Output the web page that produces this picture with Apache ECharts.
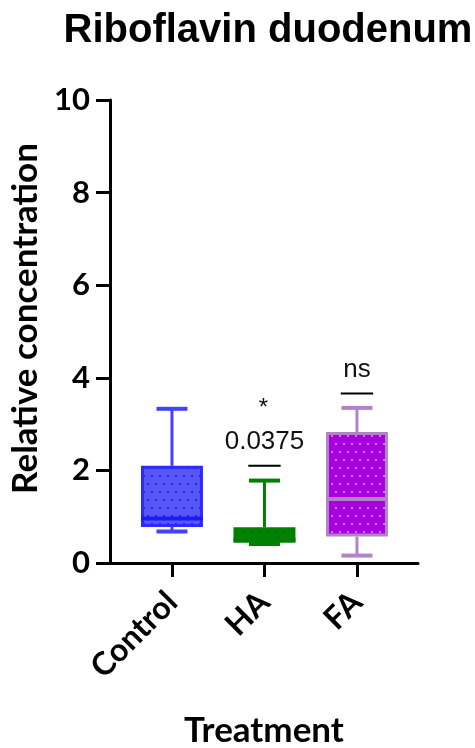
<!DOCTYPE html>
<html>
<head>
<meta charset="utf-8">
<script src="https://cdn.jsdelivr.net/npm/echarts@6/dist/echarts.min.js"></script>
<style>html,body{margin:0;padding:0;background:#fff}#c{width:475px;height:748px}</style>
</head>
<body>
<div id="c"></div>
<script>
// ---- data ----
var categories = ['Control', 'HA', 'FA'];
var whiskerLow  = [0.68, 0.41, 0.16];
var q1          = [0.78, 0.44, 0.57];
var median      = [0.96, 0.50, 1.38];
var q3          = [2.10, 0.77, 2.83];
var whiskerHigh = [3.33, 1.78, 3.35];
var yTicks = [0, 2, 4, 6, 8, 10];

// annotations
var annotCategory = ['HA', 'FA'];
var annotLineY = [2.10, 3.66];
var annotText = ['0.0375', 'ns'];
var annotStar = ['*', ''];

// ---- styles ----
var styles = [
  {fill: '#5757f7', dot: '#2323e6', border: '#2b2bff', whisker: '#4242ff', medianColor: '#1c1cf0'},
  {fill: '#008000', dot: '#006c00', border: '#008000', whisker: '#008000', medianColor: '#008000'},
  {fill: '#a900df', dot: '#c57ce6', border: '#b482c8', whisker: '#b482c8', medianColor: '#b482c8'}
];

function makePattern(bg, dot) {
  var c = document.createElement('canvas');
  c.width = 8; c.height = 16;
  var g = c.getContext('2d');
  g.fillStyle = bg; g.fillRect(0, 0, 8, 16);
  g.fillStyle = dot;
  g.fillRect(3, 3, 2, 2);
  g.fillRect(7, 11, 1, 2); g.fillRect(0, 11, 1, 2);
  return {image: c, repeat: 'repeat'};
}
var patterns = styles.map(function (s) { return makePattern(s.fill, s.dot); });

var boxData = categories.map(function (c, i) {
  return [i + 1, whiskerLow[i], q1[i], median[i], q3[i], whiskerHigh[i]];
});
var annotData = annotCategory.map(function (c, i) {
  return [categories.indexOf(c) + 1, annotLineY[i], i];
});

var chart = echarts.init(document.getElementById('c'), null, {renderer: 'canvas'});
var labelFont = 'Lato';

chart.setOption({
  animation: false,
  title: {
    text: 'Riboflavin duodenum',
    left: 263, top: 6, textAlign: 'center',
    textStyle: {fontFamily: 'Liberation Sans', fontWeight: 'bold', fontSize: 40, color: '#000'}
  },
  grid: {left: 110, top: 100, right: 57, bottom: 185, containLabel: false, outerBoundsMode: 'none'},
  xAxis: {
    type: 'value', min: 0.33, max: 3.66,
    name: 'Treatment', nameLocation: 'middle', nameGap: 150,
    nameTextStyle: {fontFamily: labelFont, fontWeight: 'bold', fontSize: 35, color: '#000'},
    axisLine: {show: true, lineStyle: {color: '#000', width: 3}},
    axisTick: {show: true, length: 14, lineStyle: {color: '#000', width: 3}, customValues: [1, 2, 3]},
    axisLabel: {
      customValues: [1, 2, 3], rotate: 45, margin: 34,
      fontFamily: labelFont, fontWeight: 'bold', fontSize: 32, color: '#000',
      formatter: function (v) { return categories[Math.round(v) - 1] || ''; }
    },
    splitLine: {show: false}
  },
  yAxis: {
    type: 'value', min: 0, max: 10, interval: 2,
    name: 'Relative concentration', nameLocation: 'middle', nameGap: 60,
    nameTextStyle: {fontFamily: labelFont, fontWeight: 'bold', fontSize: 35, color: '#000', padding: [0, 0, 0, 26]},
    axisLine: {show: true, lineStyle: {color: '#000', width: 3}},
    axisTick: {show: true, length: 14, lineStyle: {color: '#000', width: 3}},
    axisLabel: {margin: 20, fontFamily: labelFont, fontWeight: 'bold', fontSize: 31, color: '#000',
      formatter: function (v) { return yTicks.indexOf(v) >= 0 ? String(v) : ''; }},
    splitLine: {show: false}
  },
  series: [
    {
      type: 'custom',
      data: boxData,
      clip: false,
      renderItem: function (params, api) {
        var i = params.dataIndex;
        var s = styles[i];
        var x = api.value(0);
        var unit = api.size([1, 0])[0];
        var bw = unit * 0.67, cw = unit * 0.335;
        var pLow = api.coord([x, api.value(1)]);
        var pQ1 = api.coord([x, api.value(2)]);
        var pMed = api.coord([x, api.value(3)]);
        var pQ3 = api.coord([x, api.value(4)]);
        var pHigh = api.coord([x, api.value(5)]);
        var cx = pLow[0];
        var lw = {stroke: s.whisker, lineWidth: 3};
        return {
          type: 'group',
          children: [
            {type: 'line', shape: {x1: cx, y1: pHigh[1], x2: cx, y2: pQ3[1]}, style: lw},
            {type: 'line', shape: {x1: cx - cw / 2, y1: pHigh[1], x2: cx + cw / 2, y2: pHigh[1]}, style: {stroke: s.whisker, lineWidth: 4}},
            {type: 'line', shape: {x1: cx, y1: pLow[1], x2: cx, y2: pQ1[1]}, style: lw},
            {type: 'line', shape: {x1: cx - cw / 2, y1: pLow[1], x2: cx + cw / 2, y2: pLow[1]}, style: {stroke: s.whisker, lineWidth: 4}},
            {type: 'rect', shape: {x: cx - bw / 2 + 1.5, y: pQ3[1] + 1.5, width: bw - 3, height: pQ1[1] - pQ3[1] - 3},
              style: {fill: patterns[i], stroke: s.border, lineWidth: 3}},
            {type: 'line', shape: {x1: cx - bw / 2, y1: pMed[1], x2: cx + bw / 2, y2: pMed[1]}, style: {stroke: s.medianColor, lineWidth: 4}}
          ]
        };
      },
      z: 3
    },
    {
      type: 'custom',
      data: annotData,
      clip: false,
      renderItem: function (params, api) {
        var i = api.value(2);
        var p = api.coord([api.value(0), api.value(1)]);
        var half = api.size([1, 0])[0] * 0.175;
        var children = [
          {type: 'line', shape: {x1: p[0] - half, y1: p[1], x2: p[0] + half, y2: p[1]}, style: {stroke: '#000', lineWidth: 2}},
          {type: 'text', x: p[0], y: p[1] - 24, style: {text: annotText[i], textAlign: 'center', textVerticalAlign: 'middle',
            font: '26px "Liberation Sans"', fill: '#111'}}
        ];
        if (annotStar[i]) {
          children.push({type: 'text', x: p[0] - 1, y: p[1] - 57, style: {text: annotStar[i], textAlign: 'center', textVerticalAlign: 'middle',
            font: '24px "Liberation Sans"', fill: '#111'}});
        }
        return {type: 'group', children: children};
      },
      z: 4
    }
  ]
});
</script>
</body>
</html>
